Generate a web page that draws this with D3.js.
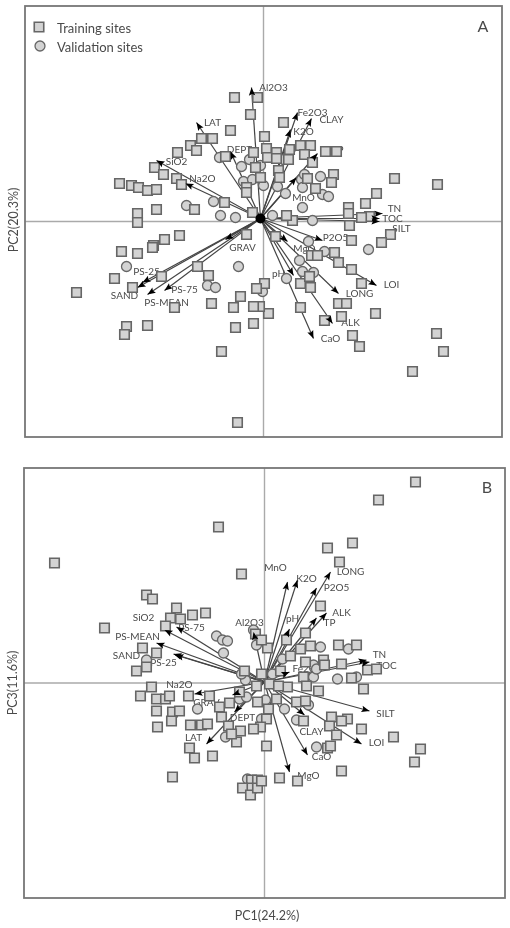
<!DOCTYPE html>
<html>
<head>
<meta charset="utf-8">
<script src="https://cdn.jsdelivr.net/npm/d3@7"></script>
<style>
  html, body { margin: 0; padding: 0; background: #fff; }
  svg { display: block; filter: blur(0.45px); }
  text { font-family: Lato, "Open Sans", sans-serif; fill: #4a4a4a; }
</style>
</head>
<body>
<svg id="chart" width="510" height="928"></svg>
<script>
// Scores and loadings, in units of the plot centre
const variables = ["Al2O3", "LAT", "SiO2", "DEPT", "Na2O", "Fe2O3", "CLAY", "K2O", "TP", "MnO", "TN", "TOC", "SILT",
  "P2O5", "MgO", "LOI", "LONG", "ALK", "CaO", "pH", "GRAV", "PS-25", "SAND", "PS-75", "PS-MEAN"];

const legendLabels = ["Training sites", "Validation sites"];
const axisTitles = ["PC2(20.3%)", "PC3(11.6%)", "PC1(24.2%)"];

const trainA = [[-29,124],[-6,124],[-13,107],[-33,91],[-62,83],[-51,83],[-73,76],[-67,71],[-86,69],[-109,54],[-100,47],
  [-87,43],[-82,37],[-144,38],[-132,36],[-125,34],[-116,31],[-107,32],[-38,65],[-10,69],[-8,54],[-3,44],[-17,34],[-17,29],
  [-39,19],[-11,9],[-69,12],[-107,12],[-126,8],[1,85],[3,73],[4,64],[13,69],[13,63],[26,72],[25,62],[37,76],[47,76],[41,67],
  [49,59],[62,70],[73,70],[15,51],[16,44],[44,43],[52,33],[70,47],[68,39],[20,99],[131,43],[174,37],[113,28],[102,18],[85,14],
  [85,8],[106,5],[98,4],[29,1],[23,6],[86,-4],[88,-19],[127,-13],[118,-21],[12,-15],[-17,-13],[-66,-45],[-55,-54],[48,-34],
  [54,-34],[71,-31],[75,-41],[88,-48],[98,-62],[37,-62],[46,-55],[47,-66],[1,-62],[-7,-67],[75,-82],[83,-82],[112,-92],[5,-92],
  [-4,-85],[-10,-85],[-10,-102],[37,-86],[61,-99],[78,-95],[89,-114],[96,-125],[173,-112],[180,-130],[149,-150],[-126,-1],
  [-84,-14],[-99,-18],[-110,-24],[-111,-26],[-142,-30],[-126,-32],[-149,-57],[-131,-66],[-102,-55],[-187,-71],[-89,-86],
  [-52,-82],[-23,-75],[-30,-86],[-28,-106],[-116,-104],[-137,-105],[-139,-113],[-42,-130],[-26,-201]];

const validA = [[-22,55],[-44,64],[-3,56],[-14,62],[20,62],[-20,40],[0,36],[-11,42],[14,35],[22,28],[39,14],[38,42],[57,45],
  [59,27],[65,25],[41,47],[39,34],[-50,20],[-77,16],[-43,6],[-28,4],[9,6],[49,1],[105,-28],[45,-20],[61,-30],[36,-39],[39,-50],
  [50,-51],[23,-57],[-1,-70],[-137,-45],[-25,-45],[-56,-64],[-48,-66]];

const tipsA = [[-12,134],[-67,99],[-107,61],[-33,70],[-78,38],[34,109],[48,103],[27,92],[54,68],[33,44],[119,8],[116,3],[116,0],
  [59,-19],[24,-20],[113,-64],[75,-72],[69,-102],[50,-117],[30,-54],[-38,-18],[-121,-61],[-126,-66],[-99,-69],[-116,-73]];

const trainB = [[-210,120],[-46,156],[-23,109],[-118,88],[-112,84],[-88,75],[-72,68],[-59,70],[-94,65],[-84,64],[-99,57],[-160,55],
  [-122,35],[-108,30],[-118,16],[-128,12],[-20,12],[-9,49],[-113,-4],[151,201],[114,183],[88,140],[63,135],[75,121],[56,77],[41,50],
  [22,43],[3,35],[-3,43],[46,37],[36,34],[74,38],[92,38],[26,27],[59,23],[60,18],[77,19],[41,21],[103,13],[112,14],[16,12],[-3,9],
  [87,5],[39,6],[5,-1],[23,-4],[14,-3],[-8,-3],[42,-3],[54,-8],[-25,-9],[-55,-13],[-35,-20],[-45,-24],[-43,-34],[-7,-19],[12,-16],
  [32,-19],[41,-18],[4,-26],[39,-38],[2,-36],[67,-34],[65,-43],[83,-36],[77,-38],[72,-52],[-36,-43],[-24,-48],[-4,-44],[-11,-46],
  [-28,-59],[-33,-51],[2,-63],[63,-65],[66,-63],[-52,-73],[-63,-42],[-57,-41],[-74,-42],[-124,-13],[-108,-16],[-99,-16],[-95,-13],
  [-76,-13],[-108,-28],[-92,-29],[-85,-28],[-93,-38],[-107,-44],[-75,-65],[-70,-75],[-92,-94],[-13,-97],[-13,-105],[-22,-105],
  [-14,-112],[-7,-97],[-7,-105],[-3,-98],[15,-95],[33,-98],[77,-88],[99,-6],[97,-46],[129,-54],[156,-66],[150,-79]];

const validB = [[-118,23],[-48,47],[-42,43],[-37,42],[-41,30],[-11,53],[-8,38],[-19,3],[-23,9],[56,36],[84,34],[73,4],[92,6],[49,18],
  [18,24],[49,6],[52,14],[8,9],[20,-26],[32,-37],[-67,-26],[-25,-16],[-18,-14],[1,-17],[-39,-54],[52,-64],[-17,-96],[44,-22],[-3,-36]];

const tipsB = [[-11,51],[-58,-61],[-100,53],[-30,-29],[-70,-11],[25,11],[40,-32],[33,103],[52,65],[23,101],[102,23],[105,21],[105,-28],
  [52,95],[25,-89],[97,-61],[66,111],[62,70],[43,-72],[25,54],[-32,-12],[-89,28],[-91,29],[-88,56],[-108,40]];

// Where each arrow starts
const originA = [-3, 3];
const originB = [0, 1];

// Label nudges in px from the arrow tip, same order as variables
const nudgeA = [[22,-1],[16,-1],[20,0],[9,-3],[17,-6],[15,-1],[20,0],[13,1],[20,-5],[7,19],[12,-6],[13,-1],[22,6],
  [13,-4],[17,6],[15,-2],[21,-1],[18,-2],[17,-1],[-15,-3],[17,7],[4,-12],[-13,7],[20,-2],[19,7]];
const nudgeB = [[-4,-10],[-13,-7],[-21,-13],[8,5],[-15,-10],[18,-4],[7,16],[9,-2],[13,4],[-12,-15],[13,-6],[17,3],[16,2],
  [20,-1],[19,3],[15,-2],[20,-1],[15,-1],[14,1],[3,-11],[-26,7],[-12,7],[-47,1],[15,0],[-19,-7]];

const svg = d3.select("#chart");
const frameColour = "#777";
const markFill = "#d3d3d3";
const markStroke = "#666";

function drawPanel(opt) {
  const g = svg.append("g");
  const x = d3.scaleLinear().domain([-opt.hx, opt.hx]).range([opt.left, opt.right]);
  const y = d3.scaleLinear().domain([-opt.hy, opt.hy]).range([opt.bottom, opt.top]);

  // centre cross
  g.append("line").attr("x1", x(0)).attr("x2", x(0)).attr("y1", opt.top).attr("y2", opt.bottom)
    .attr("stroke", "#aaa").attr("stroke-width", 1.4);
  g.append("line").attr("x1", opt.left).attr("x2", opt.right).attr("y1", y(0)).attr("y2", y(0))
    .attr("stroke", "#aaa").attr("stroke-width", 1.4);

  const arrows = variables.map((name, i) => ({
    name: name, tip: opt.tips[i], nudge: opt.nudge[i],
    angle: Math.atan2(y(opt.tips[i][1]) - y(opt.origin[1]), x(opt.tips[i][0]) - x(opt.origin[0])) * 180 / Math.PI
  }));

  g.append("g").selectAll("line").data(arrows).join("line")
    .attr("x1", x(opt.origin[0])).attr("y1", y(opt.origin[1]))
    .attr("x2", d => x(d.tip[0])).attr("y2", d => y(d.tip[1]))
    .attr("stroke", "#444").attr("stroke-width", 1.2);

  g.append("g").selectAll("text").data(arrows).join("text")
    .attr("x", d => x(d.tip[0]) + d.nudge[0])
    .attr("y", d => y(d.tip[1]) + d.nudge[1])
    .attr("text-anchor", "middle").attr("dominant-baseline", "central")
    .attr("font-size", 10).text(d => d.name);

  const square = d3.symbol(d3.symbolSquare, 90)();
  const circle = d3.symbol(d3.symbolCircle, 78)();
  g.append("g").selectAll("path").data(opt.valid).join("path")
    .attr("d", circle).attr("transform", d => `translate(${x(d[0])},${y(d[1])})`)
    .attr("fill", markFill).attr("stroke", markStroke).attr("stroke-width", 1.3);
  g.append("g").selectAll("path").data(opt.train).join("path")
    .attr("d", square).attr("transform", d => `translate(${x(d[0])},${y(d[1])})`)
    .attr("fill", markFill).attr("stroke", markStroke).attr("stroke-width", 1.6);

  // small black heads sit above the marks
  g.append("g").selectAll("path").data(arrows).join("path")
    .attr("d", "M0,0L-8,-3.2L-6.5,0L-8,3.2Z")
    .attr("transform", d => `translate(${x(d.tip[0])},${y(d.tip[1])}) rotate(${d.angle})`)
    .attr("fill", "#000");

  if (opt.blob) {
    g.append("circle").attr("cx", x(opt.origin[0])).attr("cy", y(opt.origin[1])).attr("r", 5).attr("fill", "#000");
  }

  g.append("rect").attr("x", opt.left).attr("y", opt.top)
    .attr("width", opt.right - opt.left).attr("height", opt.bottom - opt.top)
    .attr("fill", "none").attr("stroke", frameColour).attr("stroke-width", 1.8);

  g.append("text").attr("x", opt.letter[0]).attr("y", opt.letter[1])
    .attr("text-anchor", "middle").attr("dominant-baseline", "central")
    .attr("font-size", 16).text(opt.name);
}

drawPanel({ name: "A", left: 25, right: 502, top: 6, bottom: 437, hx: 238.5, hy: 215.5,
  train: trainA, valid: validA, tips: tipsA, origin: originA, nudge: nudgeA, letter: [483, 25], blob: true });
drawPanel({ name: "B", left: 24, right: 505, top: 468, bottom: 898, hx: 240.5, hy: 215,
  train: trainB, valid: validB, tips: tipsB, origin: originB, nudge: nudgeB, letter: [487, 486], blob: false });

// legend
const legend = svg.append("g");
legend.append("path").attr("d", d3.symbol(d3.symbolSquare, 90)()).attr("transform", "translate(39,27)")
  .attr("fill", markFill).attr("stroke", markStroke).attr("stroke-width", 1.6);
legend.append("path").attr("d", d3.symbol(d3.symbolCircle, 78)()).attr("transform", "translate(40,46)")
  .attr("fill", markFill).attr("stroke", markStroke).attr("stroke-width", 1.3);
legend.selectAll("text").data(legendLabels).join("text")
  .attr("x", 57).attr("y", (d, i) => 28 + i * 19)
  .attr("dominant-baseline", "central").attr("font-size", 13).text(d => d);

// axis titles
svg.append("text").attr("transform", "translate(13,220) rotate(-90)").attr("text-anchor", "middle")
  .attr("dominant-baseline", "central").attr("font-size", 12.5).text(axisTitles[0]);
svg.append("text").attr("transform", "translate(12,683) rotate(-90)").attr("text-anchor", "middle")
  .attr("dominant-baseline", "central").attr("font-size", 12.5).text(axisTitles[1]);
svg.append("text").attr("x", 267).attr("y", 915).attr("text-anchor", "middle")
  .attr("dominant-baseline", "central").attr("font-size", 12.5).text(axisTitles[2]);
</script>
</body>
</html>
